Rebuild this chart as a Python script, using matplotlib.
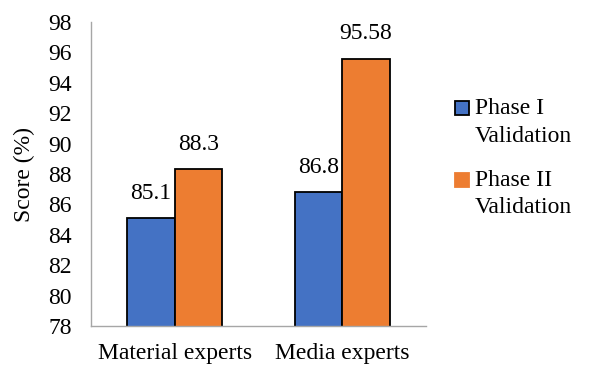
import numpy as np
import matplotlib.pyplot as plt
from matplotlib.patches import Rectangle
from matplotlib.legend_handler import HandlerPatch

plt.rcParams['font.family'] = ['Liberation Serif', 'DejaVu Serif']

groups = ["Material experts", "Media experts"]
phase1 = [85.1, 86.8]
phase2 = [88.3, 95.58]
phase1_labels = ["85.1", "86.8"]
phase2_labels = ["88.3", "95.58"]
series_names = ["Phase I\nValidation", "Phase II\nValidation"]
yticks = np.arange(78, 99, 2)

blue = "#4472c4"
orange = "#ed7d31"
fs = 17

fig = plt.figure(figsize=(5.89, 3.65), dpi=100)
ax = fig.add_axes([91/589, 1 - 326/365, 335/589, 304/365])

x = np.arange(len(groups))
w = 0.284
b1 = ax.bar(x - w/2, phase1, w, color=blue, edgecolor="black", linewidth=1.3)
b2 = ax.bar(x + w/2, phase2, w, color=orange, edgecolor="black", linewidth=1.3)

for bars, labs in ((b1, phase1_labels), (b2, phase2_labels)):
    for r, t in zip(bars, labs):
        ax.annotate(t, (r.get_x() + r.get_width()/2, r.get_height()),
                    xytext=(0, 18), textcoords="offset points",
                    ha="center", va="center", fontsize=fs)

ax.set_xlim(-0.5, 1.5)
ax.set_ylim(78, 98)
ax.set_yticks(yticks)
ax.set_xticks(x)
ax.set_xticklabels(groups)
ax.tick_params(length=0, labelsize=fs)
ax.tick_params(axis="x", pad=12)
ax.tick_params(axis="y", pad=14)
ax.set_ylabel("Score (%)", fontsize=fs)
ax.yaxis.set_label_coords(-0.167, 0.5)

for s in ("top", "right"):
    ax.spines[s].set_visible(False)
for s in ("left", "bottom"):
    ax.spines[s].set_color("#a6a6a6")
    ax.spines[s].set_linewidth(1)


# square swatch sitting next to the first line of a two-line label
def top_square(legend, orig_handle, xdescent, ydescent, width, height, fontsize):
    s = 0.6 * fontsize
    return Rectangle((-xdescent, -ydescent + height - s + 0.15 * fontsize), s, s)


proxies = [Rectangle((0, 0), 1, 1, facecolor=blue, edgecolor="black", linewidth=1.3),
           Rectangle((0, 0), 1, 1, facecolor=orange, edgecolor=orange, linewidth=1.3)]
leg = ax.legend(proxies, series_names, loc="upper left", bbox_to_anchor=(1.087, 0.749),
                frameon=False, fontsize=fs, handlelength=0.6, handleheight=2.0,
                handletextpad=0.25, labelspacing=0.97, borderaxespad=0, borderpad=0,
                handler_map={Rectangle: HandlerPatch(patch_func=top_square)})
for t in leg.get_texts():
    t.set_linespacing(1.4)

fig.savefig("out.png", dpi=100)
